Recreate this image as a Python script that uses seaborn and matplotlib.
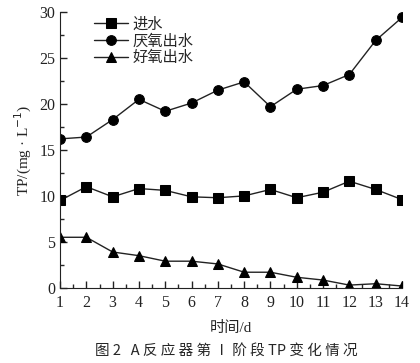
import numpy as np
import pandas as pd
import seaborn as sns
import matplotlib.pyplot as plt
from matplotlib.ticker import MultipleLocator

days = list(range(1, 15))
influent = [9.5, 11.0, 9.9, 10.8, 10.6, 9.9, 9.8, 10.0, 10.7, 9.8, 10.4, 11.6, 10.7, 9.6]
anaerobic = [16.2, 16.4, 18.3, 20.5, 19.2, 20.1, 21.5, 22.4, 19.7, 21.6, 22.0, 23.2, 26.9, 29.4]
aerobic = [5.5, 5.5, 3.9, 3.5, 2.9, 2.9, 2.6, 1.7, 1.7, 1.15, 0.85, 0.3, 0.45, 0.2]
series_names = ['进水', '厌氧出水', '好氧出水']
markers = ['s', 'o', '^']

sns.set_style('ticks')
plt.rcParams['font.family'] = ['Liberation Serif', 'Noto Sans CJK SC', 'DejaVu Sans']
plt.rcParams['xtick.direction'] = 'in'
plt.rcParams['ytick.direction'] = 'in'

df = pd.DataFrame({'day': days * 3,
                   'TP': influent + anaerobic + aerobic,
                   'series': np.repeat(series_names, len(days))})

fig = plt.figure(figsize=(4.2, 3.63), dpi=100)
ax = fig.add_axes([0.143, 0.207, 0.814, 0.76])

for name, m in zip(series_names, markers):
    sns.lineplot(data=df[df['series'] == name], x='day', y='TP', ax=ax,
                 color='#222222', lw=1.0, marker=m, markersize=7,
                 markerfacecolor='black', markeredgecolor='black', label=name)

ax.set_xlim(1, 14)
ax.set_ylim(0, 30)
ax.set_xticks(days)
ax.set_yticks([0, 5, 10, 15, 20, 25, 30])
ax.xaxis.set_minor_locator(MultipleLocator(0.5))
ax.yaxis.set_minor_locator(MultipleLocator(2.5))
ax.tick_params(which='major', length=5, width=1, labelsize=11.5, colors='#222222')
ax.tick_params(axis='x', which='major', pad=5)
ax.tick_params(which='minor', length=3, width=1)
for s in ['top', 'right']:
    ax.spines[s].set_visible(False)
for s in ['left', 'bottom']:
    ax.spines[s].set_color('#222222')

ax.set_xlabel('时间/d', fontsize=11, labelpad=7)
ax.set_ylabel('TP/(mg · L$^{-1}$)', fontsize=11, labelpad=4)

ax.legend(loc='upper left', bbox_to_anchor=(0.06, 1.03), frameon=False,
          fontsize=11, handlelength=2.2, handletextpad=0.3, labelspacing=0.15)

fig.text(0.54, 0.035, '图 2   A 反 应 器 第 Ⅰ 阶 段 TP 变 化 情 况', ha='center', va='center',
         fontsize=10.5, family=['Noto Sans CJK SC', 'DejaVu Sans'])

fig.savefig('out.png', dpi=100)
